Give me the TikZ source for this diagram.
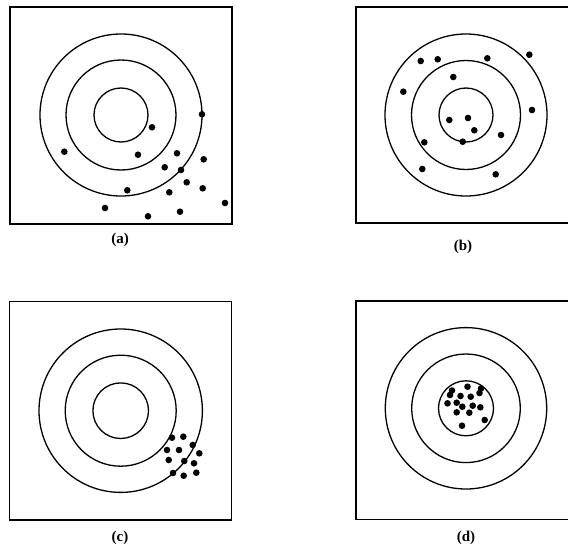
\documentclass[tikz,border=0pt]{standalone}
\usepackage{fontspec}
\setmainfont{Liberation Serif}
\begin{document}
\begin{tikzpicture}[x=1pt,y=-1pt,
  frame/.style={line width=1.6pt},
  ring/.style={line width=1.3pt},
  shot/.style={fill=black},
  panellabel/.style={font=\fontsize{15}{17}\selectfont\bfseries}]
\useasboundingbox (0,0) rectangle (568,554);
\clip (0,0) rectangle (568,554);
% ---------- (a)
\draw[frame] (10,7) rectangle (232,224);
\coordinate (ca) at (121,115);
\draw[ring] (ca) circle (27) (ca) circle (55) (ca) circle (81);
\foreach \p in {(202,114.3),(152,127.3),(64.3,151.7),(138,154.7),(177,153.3),(203.7,159.3),(164.7,167.3),(181,170),(186.7,182.3),(127.3,190.3),(169.3,192.3),(202.7,188.3),(225,203),(105,208),(180,211.7),(148,216.3)}
  \fill[shot] \p circle (3.3);
\node[panellabel] (la) at (120,240) {(a)};
% ---------- (b)
\draw[frame] (578,7) -- (356,7) -- (356,223) -- (578,223);
\coordinate (cb) at (466,115);
\draw[ring] (cb) circle (27) (cb) circle (54.5) (cb) circle (81);
\foreach \p in {(420.7,61),(437.7,59.3),(487.3,58.3),(529.3,54.7),(453.3,77),(403.3,91.7),(532,110),(449.3,120),(468,118),(474.3,130.3),(501,135),(424.3,142.3),(462.7,141.7),(422.3,169),(495.7,174.3)}
  \fill[shot] \p circle (3.3);
\node[panellabel] (lb) at (463,247) {(b)};
% ---------- (c)
\draw[frame] (9.5,301.5) rectangle (231.5,520);
\coordinate (cc) at (120.7,410.7);
\draw[ring] (cc) circle (27.8) (cc) circle (55.5) (cc) circle (81.7);
\foreach \p in {(172,437.7),(183.3,436.7),(167,450),(179,450),(192.7,445),(199.3,453.3),(168.7,460),(184.3,461),(194,463.3),(173,473),(183.7,475.7),(196.3,472.7)}
  \fill[shot] \p circle (3.3);
\node[panellabel] (lc) at (120,538) {(c)};
% ---------- (d)
\draw[frame] (578,300.7) -- (356,300.7) -- (356,519.3) -- (578,519.3);
\coordinate (cd) at (466,408.3);
\draw[ring] (cd) circle (27.5) (cd) circle (54.3) (cd) circle (80.7);
\foreach \p in {(452,390.5),(450,395),(467.5,386.7),(481,388.5),(479.5,393),(460.5,396),(470.7,396.7),(447.5,403.3),(456.7,402.7),(462.3,406.7),(472.7,405.7),(480.3,407.3),(456.7,412.3),(469.3,412.7),(484.7,420),(462,425.7)}
  \fill[shot] \p circle (3.3);
\node[panellabel] (ld) at (466,538) {(d)};
\end{tikzpicture}
\end{document}
